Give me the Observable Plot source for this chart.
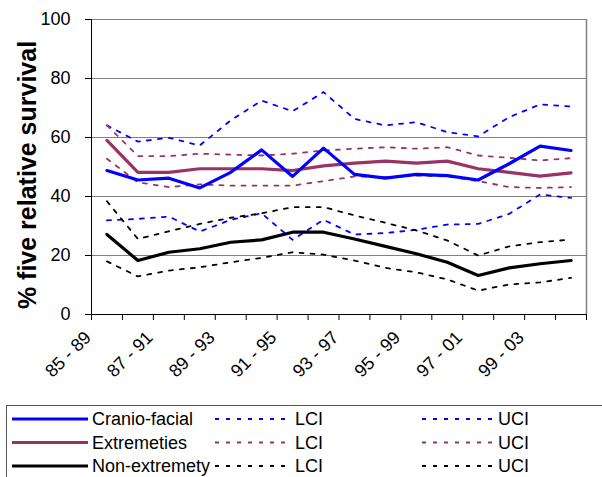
<!DOCTYPE html>
<html>
<head>
<meta charset="utf-8">
<script src="https://cdn.jsdelivr.net/npm/d3@7"></script>
<script src="https://cdn.jsdelivr.net/npm/@observablehq/plot@0.6"></script>
<style>
  body { margin: 0; background: #fff; font-family: "Liberation Sans", Arial, sans-serif; }
  #chart { position: relative; width: 602px; height: 477px; overflow: hidden; }
  #legend { position: absolute; left: 6px; top: 405px; }
</style>
</head>
<body>
<div id="chart"></div>
<script>
// Five-year calendar periods
const periods = ["85 - 89","86 - 90","87 - 91","88 - 92","89 - 93","90 - 94","91 - 95","92 - 96",
                 "93 - 97","94 - 98","95 - 99","96 - 00","97 - 01","98 - 02","99 - 03","00 - 04"];
const tickLabels = ["85 - 89","87 - 91","89 - 93","91 - 95","93 - 97","95 - 99","97 - 01","99 - 03"];

// % five-year relative survival, with lower / upper confidence limits
const cranioFacial    = [48.8,45.6,46.2,42.9,48.2,55.8,46.8,56.4,47.5,46.2,47.5,47.1,45.6,51.1,57.1,55.6];
const cranioFacialLCI = [31.9,32.4,33.2,28.1,32.1,34.3,25.3,32.1,27.1,27.6,28.7,30.5,30.7,34.1,40.7,39.5];
const cranioFacialUCI = [64.1,58.6,59.9,57.3,65.8,72.5,68.9,75.4,66.3,64.1,65.2,61.8,60.4,66.9,71.2,70.5];

const extremeties     = [59.0,48.2,48.2,49.4,49.4,49.4,48.8,50.4,51.3,52.0,51.3,52.0,49.4,48.2,46.9,48.0];
const extremetiesLCI  = [52.8,44.8,43.2,44.1,43.7,43.7,43.7,45.2,46.8,46.6,47.1,46.8,45.2,43.2,42.9,43.2];
const extremetiesUCI  = [64.1,53.7,53.7,54.5,54.2,53.9,54.5,55.6,56.2,56.7,56.2,56.7,53.9,53.1,52.2,53.0];

const nonExtremety    = [27.1,18.3,21.1,22.3,24.5,25.3,27.9,27.9,25.6,23.1,20.6,17.7,13.2,15.8,17.2,18.3];
const nonExtremetyLCI = [18.0,12.9,14.9,16.0,17.7,19.2,21.1,20.3,18.3,15.8,14.3,11.9, 8.1,10.2,10.9,12.4];
const nonExtremetyUCI = [38.4,25.6,28.2,30.7,32.8,34.3,36.4,36.4,33.6,31.1,28.5,25.1,20.0,23.1,24.5,25.4];

const groupNames  = ["Cranio-facial", "Extremeties", "Non-extremety"];
const groupColors = ["#0000FF", "#993366", "#000000"];

const groups = [
  {name: groupNames[0], color: groupColors[0], est: cranioFacial, lci: cranioFacialLCI, uci: cranioFacialUCI},
  {name: groupNames[1], color: groupColors[1], est: extremeties,  lci: extremetiesLCI,  uci: extremetiesUCI},
  {name: groupNames[2], color: groupColors[2], est: nonExtremety, lci: nonExtremetyLCI, uci: nonExtremetyUCI}
];

// Long table: one row per period per series
const rows = [];
groups.forEach((g, gi) => {
  for (const kind of ["est", "lci", "uci"]) {
    g[kind].forEach((v, i) => rows.push({
      id: `${gi}-${kind}`, group: g.name, kind, color: g.color, x: i + 0.5, period: periods[i], value: v
    }));
  }
});
const estRows = rows.filter(d => d.kind === "est");
const ciRows  = rows.filter(d => d.kind !== "est");
// draw the plum line first so the blue and black lines sit on top
const estOrder = [1, 0, 2].map(gi => estRows.filter(d => d.group === groupNames[gi])).flat();

const font = "'Liberation Sans', Arial, sans-serif";
const ciDash = "4,7";

const chart = Plot.plot({
  width: 602,
  height: 400,
  marginLeft: 91,
  marginRight: 16,
  marginTop: 19,
  marginBottom: 86,
  style: {fontFamily: font, fontSize: "18px", background: "#fff", color: "#000"},
  x: {domain: [0, periods.length], axis: null},
  y: {domain: [0, 100], axis: null},
  color: {type: "identity"},
  marks: [
    Plot.gridY([20, 40, 60, 80, 100], {stroke: "#808080", strokeOpacity: 1}),
    Plot.ruleX([periods.length], {y1: 0, y2: 100, stroke: "#808080", strokeWidth: 1.5}),
    Plot.line(ciRows, {x: "x", y: "value", z: "id", stroke: "color", strokeWidth: 1.8, strokeDasharray: ciDash}),
    Plot.line(estOrder, {x: "x", y: "value", z: "id", stroke: "color", strokeWidth: 3.2}),
    Plot.ruleX([0], {y1: 0, y2: 100, stroke: "#000"}),
    Plot.ruleY([0], {stroke: "#000"}),
    Plot.axisY({ticks: [0, 20, 40, 60, 80, 100], tickSize: 6, tickPadding: 15, label: null, fontSize: 18, stroke: "#000"}),
    Plot.axisX({ticks: d3.range(periods.length + 1), tickSize: 6, tickFormat: () => "", label: null, stroke: "#000"}),
    Plot.axisX({
      ticks: tickLabels.map(l => periods.indexOf(l) + 0.5),
      tickFormat: d => periods[Math.floor(d)],
      tickSize: 0, tickPadding: 20, tickRotate: -45, dx: -19,
      label: null, fontSize: 18
    }),
    Plot.text(["% five relative survival"], {
      frameAnchor: "left", rotate: -90, dx: -64, dy: 8,
      fontWeight: "bold", fontSize: 25, textAnchor: "middle", lineAnchor: "middle"
    })
  ]
});

const container = document.getElementById("chart");
container.appendChild(chart);

// Legend box below the plot: one row per group, estimate / LCI / UCI
const legend = d3.select(container).append("svg")
  .attr("id", "legend")
  .attr("width", 600).attr("height", 80)
  .style("font-family", font).style("font-size", "18px");
legend.append("rect")
  .attr("x", 0.5).attr("y", 0.5).attr("width", 620).attr("height", 90)
  .attr("fill", "#fff").attr("stroke", "#555");

const cols = [
  {x0: 6,   x1: 82,  text: 86,  kind: "est"},
  {x0: 209, x1: 285, text: 289, kind: "lci"},
  {x0: 416, x1: 489, text: 492, kind: "uci"}
];
groups.forEach((g, gi) => {
  const y = 14 + gi * 23.5;
  cols.forEach(c => {
    legend.append("line")
      .attr("x1", c.x0).attr("x2", c.x1).attr("y1", y).attr("y2", y)
      .attr("stroke", g.color)
      .attr("stroke-width", c.kind === "est" ? 3.2 : 1.8)
      .attr("stroke-dasharray", c.kind === "est" ? null : ciDash);
    legend.append("text")
      .attr("x", c.text).attr("y", y).attr("dy", "0.35em")
      .text(c.kind === "est" ? g.name : c.kind.toUpperCase());
  });
});
</script>
</body>
</html>
